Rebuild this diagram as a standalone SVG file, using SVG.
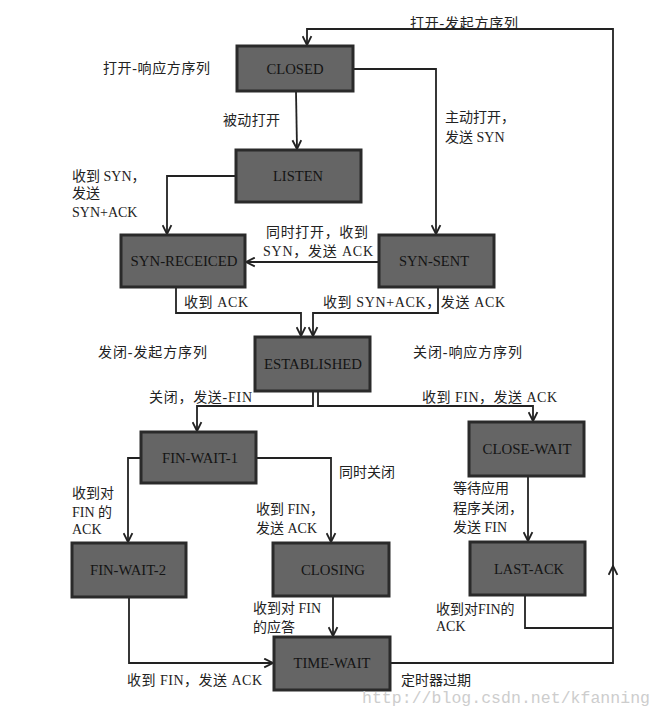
<svg xmlns="http://www.w3.org/2000/svg" width="662" height="717" viewBox="0 0 662 717">
<defs>
<style>
.box{fill:#656565;stroke:#2a2a2a;stroke-width:3}
.bt{font-family:"Liberation Serif","Times New Roman",serif;font-size:14px;fill:#141414;text-anchor:middle}
.lb{font-family:"Liberation Serif","Noto Sans CJK SC",serif;font-size:14px;fill:#222}
.ln{fill:none;stroke:#222;stroke-width:1.8}
.wm{font-family:"Liberation Mono",monospace;font-size:16.5px;fill:#cdcdcd}
</style>
<marker id="arr" viewBox="0 0 10 10" refX="9" refY="5" markerWidth="11" markerHeight="11" markerUnits="userSpaceOnUse" orient="auto">
<path d="M1,1 L9,5 L1,9" fill="none" stroke="#222" stroke-width="1.7"/>
</marker>
</defs>
<rect width="662" height="717" fill="#fff"/>

<g id="connectors">
<path class="ln" d="M390,663 H613 V566" marker-end="url(#arr)"/>
<path class="ln" d="M613,568 V29 H307 V45" marker-end="url(#arr)"/>
<path class="ln" d="M296,91 L297,149" marker-end="url(#arr)"/>
<path class="ln" d="M353,69 H436 V234" marker-end="url(#arr)"/>
<path class="ln" d="M236,176 H167 V234" marker-end="url(#arr)"/>
<path class="ln" d="M379,262 H246" marker-end="url(#arr)"/>
<path class="ln" d="M176,287 V313 H301 V336" marker-end="url(#arr)"/>
<path class="ln" d="M438,287 V313 H313 V336" marker-end="url(#arr)"/>
<path class="ln" d="M313,391 V406 H197 V431" marker-end="url(#arr)"/>
<path class="ln" d="M318,391 V406 H533 V421" marker-end="url(#arr)"/>
<path class="ln" d="M528,476 V541" marker-end="url(#arr)"/>
<path class="ln" d="M141,458 H128 V542" marker-end="url(#arr)"/>
<path class="ln" d="M256,458 H331 V542" marker-end="url(#arr)"/>
<path class="ln" d="M333,596 V636" marker-end="url(#arr)"/>
<path class="ln" d="M129,597 V663 H273" marker-end="url(#arr)"/>
<path class="ln" d="M525,595 V628 H613"/>
</g>

<g id="closed"><rect class="box" x="237" y="46" width="116" height="45"/><text class="bt" x="295" y="74" textLength="57" lengthAdjust="spacingAndGlyphs">CLOSED</text></g>
<g id="listen"><rect class="box" x="236" y="150" width="125" height="52"/><text class="bt" x="298" y="181" textLength="50" lengthAdjust="spacingAndGlyphs">LISTEN</text></g>
<g id="syn-receiced"><rect class="box" x="121" y="235" width="124" height="52"/><text class="bt" x="184" y="266" textLength="107" lengthAdjust="spacingAndGlyphs">SYN-RECEICED</text></g>
<g id="syn-sent"><rect class="box" x="379" y="235" width="115" height="52"/><text class="bt" x="434" y="266" textLength="70" lengthAdjust="spacingAndGlyphs">SYN-SENT</text></g>
<g id="established"><rect class="box" x="255" y="337" width="115" height="54"/><text class="bt" x="313" y="369" textLength="98" lengthAdjust="spacingAndGlyphs">ESTABLISHED</text></g>
<g id="fin-wait-1"><rect class="box" x="141" y="432" width="115" height="51"/><text class="bt" x="200" y="463" textLength="76" lengthAdjust="spacingAndGlyphs">FIN-WAIT-1</text></g>
<g id="close-wait"><rect class="box" x="469" y="422" width="115" height="54"/><text class="bt" x="527" y="454" textLength="89" lengthAdjust="spacingAndGlyphs">CLOSE-WAIT</text></g>
<g id="fin-wait-2"><rect class="box" x="72" y="543" width="114" height="54"/><text class="bt" x="128" y="575" textLength="76" lengthAdjust="spacingAndGlyphs">FIN-WAIT-2</text></g>
<g id="closing"><rect class="box" x="273" y="543" width="116" height="53"/><text class="bt" x="333" y="575" textLength="64" lengthAdjust="spacingAndGlyphs">CLOSING</text></g>
<g id="last-ack"><rect class="box" x="470" y="542" width="115" height="53"/><text class="bt" x="529" y="574" textLength="70" lengthAdjust="spacingAndGlyphs">LAST-ACK</text></g>
<g id="time-wait"><rect class="box" x="274" y="637" width="116" height="53"/><text class="bt" x="332" y="668" textLength="77" lengthAdjust="spacingAndGlyphs">TIME-WAIT</text></g>

<g id="labels">
<text class="lb" x="410" y="28" textLength="108">打开-发起方序列</text>
<text class="lb" x="103" y="73" textLength="107">打开-响应方序列</text>
<text class="lb" x="223" y="125" textLength="57">被动打开</text>
<text class="lb" x="445" y="122">主动打开，</text>
<text class="lb" x="445" y="142">发送 SYN</text>
<text class="lb" x="72" y="181">收到 SYN，</text>
<text class="lb" x="72" y="198">发送</text>
<text class="lb" x="72" y="217">SYN+ACK</text>
<text class="lb" x="266" y="237" textLength="102">同时打开，收到</text>
<text class="lb" x="263" y="256" textLength="110">SYN，发送 ACK</text>
<text class="lb" x="184" y="307" textLength="64">收到 ACK</text>
<text class="lb" x="323" y="307" textLength="182">收到 SYN+ACK，发送 ACK</text>
<text class="lb" x="98" y="357" textLength="109">发闭-发起方序列</text>
<text class="lb" x="413" y="357" textLength="109">关闭-响应方序列</text>
<text class="lb" x="149" y="402" textLength="103">关闭，发送-FIN</text>
<text class="lb" x="422" y="402" textLength="135">收到 FIN，发送 ACK</text>
<text class="lb" x="339" y="477">同时关闭</text>
<text class="lb" x="72" y="498">收到对</text>
<text class="lb" x="72" y="517">FIN 的</text>
<text class="lb" x="72" y="534">ACK</text>
<text class="lb" x="256" y="514">收到 FIN，</text>
<text class="lb" x="256" y="533">发送 ACK</text>
<text class="lb" x="453" y="493">等待应用</text>
<text class="lb" x="453" y="513">程序关闭，</text>
<text class="lb" x="453" y="532">发送 FIN</text>
<text class="lb" x="253" y="613">收到对 FIN</text>
<text class="lb" x="253" y="632">的应答</text>
<text class="lb" x="436" y="614">收到对FIN的</text>
<text class="lb" x="436" y="631">ACK</text>
<text class="lb" x="127" y="685" textLength="135">收到 FIN，发送 ACK</text>
<text class="lb" x="401" y="685">定时器过期</text>
</g>
<text class="wm" x="362" y="703" textLength="288">http://blog.csdn.net/kfanning</text>
</svg>
